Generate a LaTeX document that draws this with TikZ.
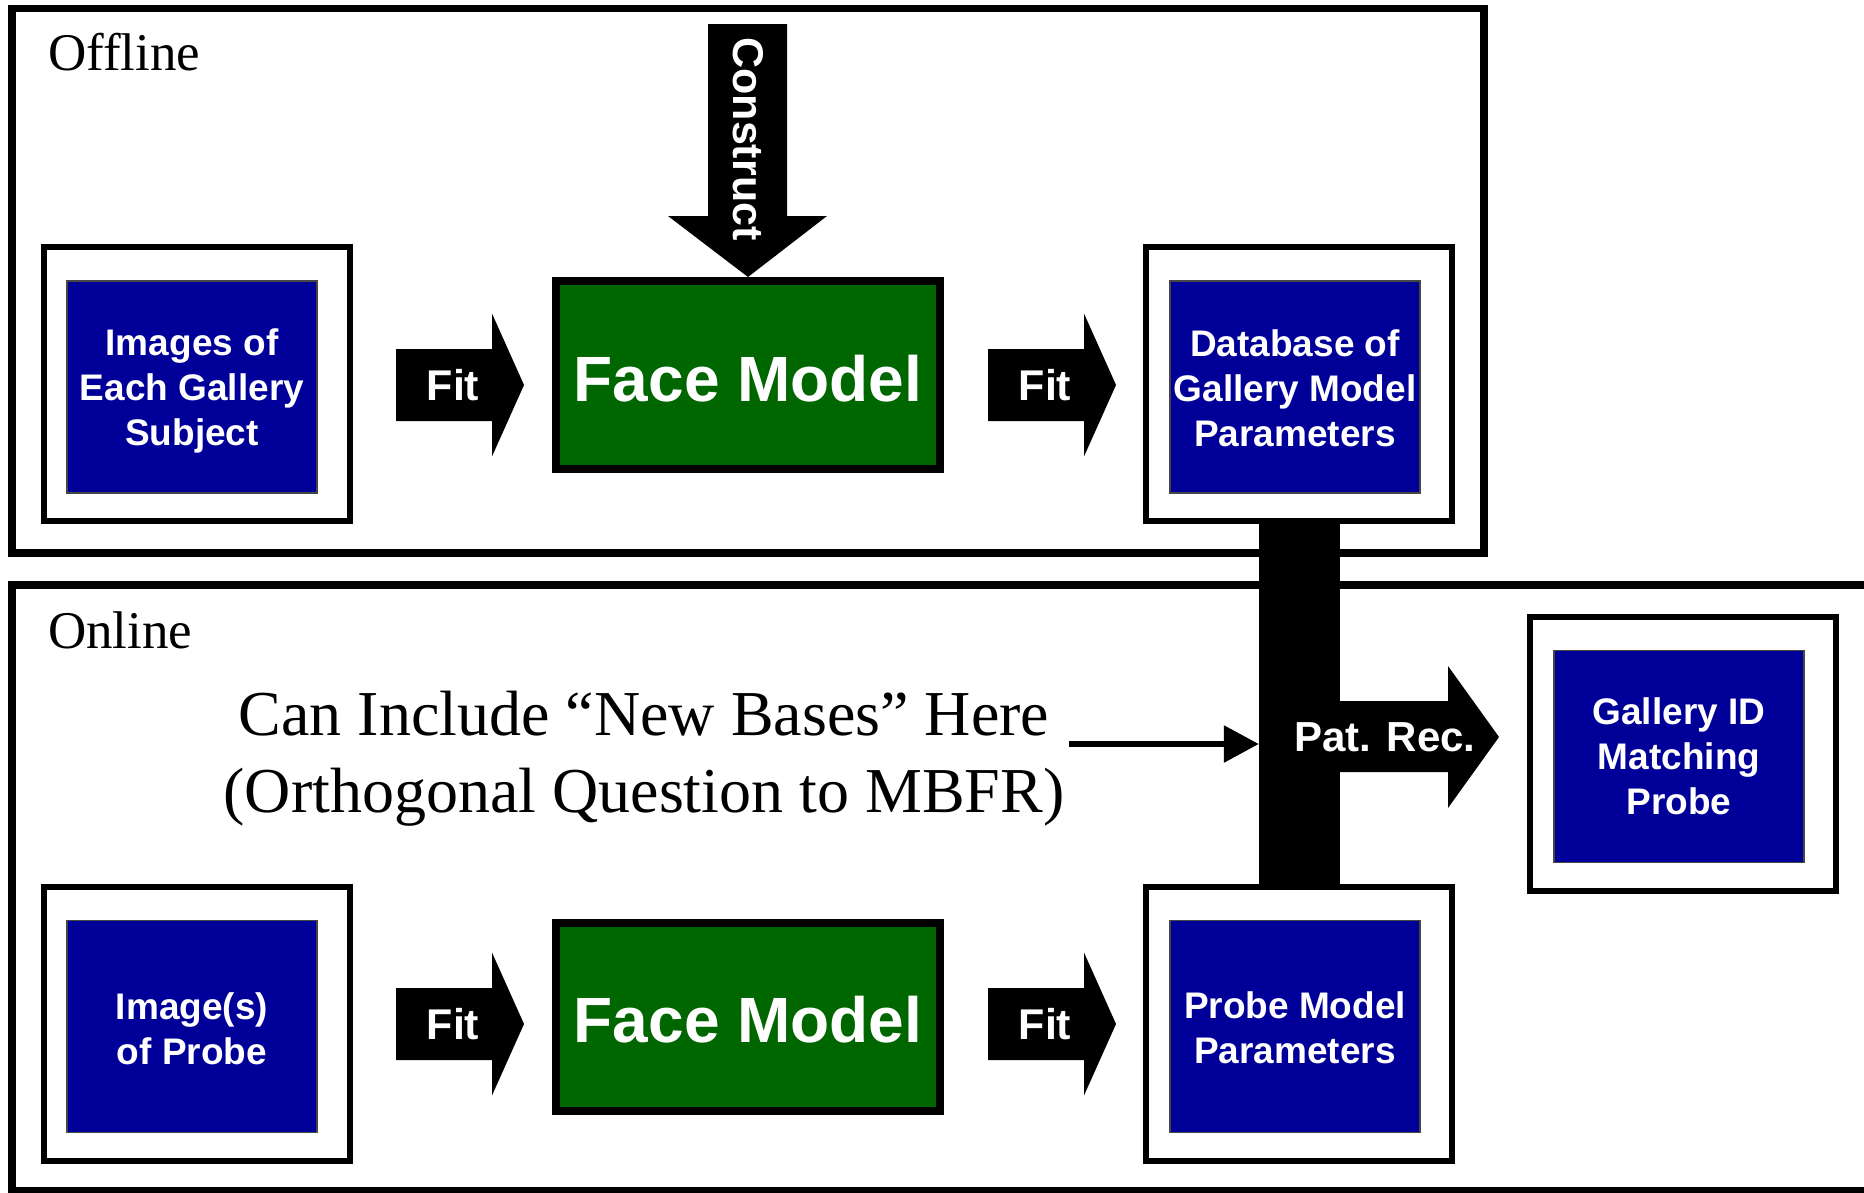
\documentclass[tikz,border=0pt]{standalone}
\usepackage{fontspec}
\setmainfont{Liberation Serif}
\newfontfamily\arialfont{Liberation Sans}
\usetikzlibrary{arrows.meta,calc}
\definecolor{boxblue}{RGB}{0,0,153}
\definecolor{boxgreen}{RGB}{0,102,0}
\definecolor{edgegray}{RGB}{70,70,70}
\newcommand\fitarrowshape[3]{%
  \fill[black] (#1,#2) ++(0,-36) -- ++(96,0) -- ++(0,-35.5) -- ++(32,71.5)
     -- ++(-32,71.5) -- ++(0,-35.5) -- ++(-96,0) -- cycle;
  \node[arrowlabel] (#3) at (#1+57,#2) {Fit};}
\begin{document}
\begin{tikzpicture}[x=1pt,y=-1pt,
  panel/.style={draw=black, line width=7.5pt},
  framebox/.style={draw=black, fill=white, line width=6pt, minimum width=306pt, minimum height=274pt, inner sep=0pt},
  innerbox/.style={fill=boxblue, draw=edgegray, line width=1.5pt, minimum width=250pt, minimum height=212pt,
     inner sep=0pt},
  boxtext/.style={text=white, align=center, inner sep=0pt, font=\arialfont\bfseries\fontsize{37}{45}\selectfont},
  greenbox/.style={fill=boxgreen, draw=black, line width=8pt, minimum width=384pt, minimum height=188pt,
     inner sep=0pt},
  greentext/.style={text=white, inner sep=0pt, font=\arialfont\bfseries\fontsize{64}{70}\selectfont},
  arrowlabel/.style={text=white, inner sep=0pt, font=\arialfont\bfseries\fontsize{43}{50}\selectfont},
  serifbig/.style={inner sep=0pt, font=\fontsize{64}{77}\selectfont},
  paneltitle/.style={inner sep=0pt, anchor=base west, font=\fontsize{53}{60}\selectfont}]
\useasboundingbox (0,0) rectangle (1864,1192);
% panels
\draw[panel] (12,8.5) rectangle (1484,553);
\draw[panel] (12,585) rectangle (1890,1190.5);
\node[paneltitle] (offl) at (48,70) {Offline};
\node[paneltitle] (onl) at (48,648) {Online};
% frames
\node[framebox] (f1) at (197,384) {};
\node[framebox] (f2) at (1299,384) {};
\node[framebox] (f3) at (197,1023.5) {};
\node[framebox] (f4) at (1299,1023.5) {};
\node[framebox] (f5) at (1683,753.5) {};
\node[innerbox] (b1) at (192,387) {};
\node[innerbox] (b2) at (1295,387) {};
\node[innerbox] (b3) at (192,1026.5) {};
\node[innerbox] (b4) at (1295,1026.5) {};
\node[innerbox] (b5) at (1679,756.5) {};
\node[boxtext] (t1) at ($(b1.center)+(0,4)$) {Images of\\Each Gallery\\Subject};
\node[boxtext] (t2) at ($(b2.center)+(0,1)$) {Database of\\Gallery Model\\Parameters};
\node[boxtext] (t3) at ($(b3.center)+(0,2)$) {Image(s)\\of Probe};
\node[boxtext] (t4) at ($(b4.center)+(0,1)$) {Probe Model\\Parameters};
\node[boxtext] (t5) at (b5.center) {Gallery ID\\Matching\\Probe};
% face models
\node[greenbox] (g1) at (748,375) {};
\node[greenbox] (g2) at (748,1017) {};
\node[greentext] (gt1) at ($(g1.center)+(0,4)$) {Face Model};
\node[greentext] (gt2) at ($(g2.center)+(0,3)$) {Face Model};
% fit arrows
\fitarrowshape{396}{385}{fit1}
\fitarrowshape{988}{385}{fit2}
\fitarrowshape{396}{1024}{fit3}
\fitarrowshape{988}{1024}{fit4}
% construct arrow
\fill[black] (708,24) -- (787,24) -- (787,216) -- (827,216) -- (g1.north) -- (668,216) -- (708,216) -- cycle;
\node[arrowlabel, rotate=-90] (cons) at (748,139) {Construct};
% pattern recognition bar and arrow
\node[fill=black, draw=none, minimum width=81pt, minimum height=366pt, inner sep=0pt] (bar) at (1299.5,704) {};
\fill[black] (bar.east |- 0,701) -- (1448,701) -- (1448,666) -- (1499,737) -- (1448,808) -- (1448,772) -- (bar.east |- 0,772) -- cycle;
\node[arrowlabel, font=\arialfont\bfseries\fontsize{42}{50}\selectfont] (patrec) at (1385,737) {Pat. Rec.};
% note and thin arrow
\node[serifbig, anchor=base] (note1) at (644,735.5) {Can Include “New Bases” Here};
\node[serifbig, anchor=base] (note2) at (644,812.5) {(Orthogonal Question to MBFR)};
\coordinate (ts) at (1069,744);
\draw[line width=6pt, -{Triangle[length=35pt,width=36pt]}] (ts) -- (ts -| bar.west);
\end{tikzpicture}
\end{document}
